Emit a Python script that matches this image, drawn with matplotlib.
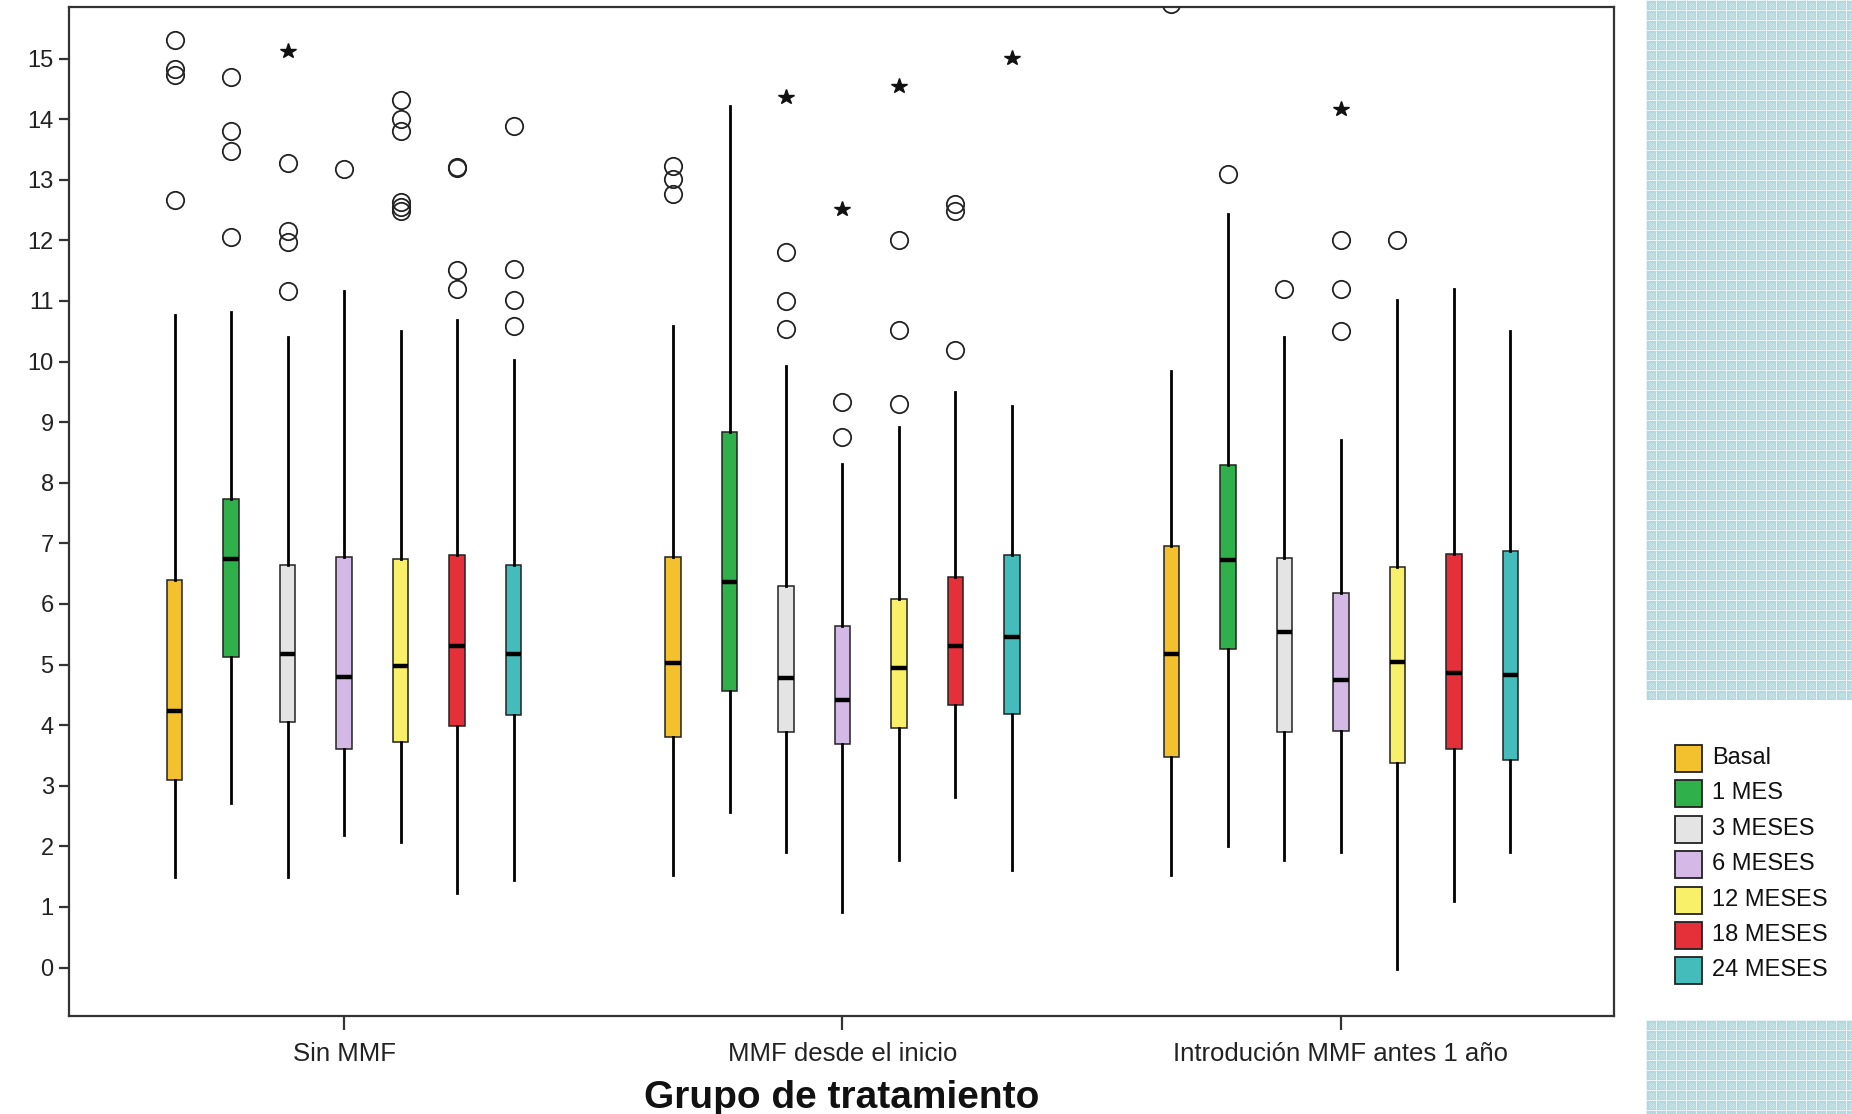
import numpy as np
import matplotlib
matplotlib.use("Agg")
import matplotlib.pyplot as plt
from matplotlib.patches import Rectangle

plt.rcParams['font.family'] = ['Liberation Sans', 'DejaVu Sans']

groups = ["Sin MMF", "MMF desde el inicio", "Introdución MMF antes 1 año"]
series = ["Basal", "1 MES", "3 MESES", "6 MESES", "12 MESES", "18 MESES", "24 MESES"]
colors = ["#F3C02E", "#2FB04A", "#E4E4E4", "#D4B8E6", "#F8F068", "#E5303A", "#44BCBC"]

# rows = series, columns = groups
whislo = [[1.49, 1.52, 1.52],
          [2.72, 2.56, 2.01],
          [1.49, 1.91, 1.78],
          [2.19, 0.91, 1.90],
          [2.07, 1.77, -0.02],
          [1.23, 2.81, 1.09],
          [1.45, 1.61, 1.90]]
q1 = [[3.10, 3.81, 3.48],
      [5.12, 4.57, 5.26],
      [4.05, 3.88, 3.89],
      [3.61, 3.69, 3.91],
      [3.72, 3.95, 3.38],
      [3.99, 4.33, 3.61],
      [4.16, 4.19, 3.43]]
medians = [[4.23, 5.02, 5.18],
           [6.74, 6.36, 6.73],
           [5.18, 4.78, 5.53],
           [4.79, 4.41, 4.75],
           [4.97, 4.94, 5.04],
           [5.30, 5.30, 4.86],
           [5.18, 5.45, 4.83]]
q3 = [[6.39, 6.77, 6.96],
      [7.73, 8.83, 8.30],
      [6.65, 6.30, 6.76],
      [6.77, 5.64, 6.18],
      [6.74, 6.08, 6.61],
      [6.80, 6.45, 6.82],
      [6.65, 6.81, 6.88]]
whishi = [[10.76, 10.59, 9.85],
          [10.81, 14.21, 12.44],
          [10.40, 9.93, 10.40],
          [11.17, 8.31, 8.70],
          [10.51, 8.92, 11.01],
          [10.69, 9.50, 11.20],
          [10.03, 9.27, 10.51]]

# outliers (circles) and extremes (stars): rows = series, columns = groups
outliers = [[[15.30, 14.83, 14.72, 12.66], [13.23, 13.01, 12.77], [15.90]],
            [[14.69, 13.81, 13.48, 12.05], [], [13.10]],
            [[13.28, 12.16, 11.97, 11.17], [11.80, 11.00, 10.54], [11.19]],
            [[13.18], [9.33, 8.75], [12.00, 11.19, 10.50]],
            [[14.31, 14.01, 13.81, 12.63, 12.55, 12.48], [12.00, 10.52, 9.30], [12.00]],
            [[13.21, 13.19, 11.51, 11.20], [12.60, 12.49, 10.19], []],
            [[13.89, 11.53, 11.02, 10.59], [], []]]
extremes = [[[], [], []],
            [[], [], []],
            [[15.12], [14.36], []],
            [[], [12.52], [14.17]],
            [[], [14.55], []],
            [[], [], []],
            [[], [15.01], []]]

y_ticks = list(range(0, 16))

W, H = 1852, 1114
fig = plt.figure(figsize=(W / 100, H / 100), dpi=100)
fig.patch.set_facecolor("white")

# decorative patterned background panels at right
def pattern(h, w):
    arr = np.zeros((h, w, 3), dtype=float)
    arr[:, :] = np.array([178, 216, 222]) / 255.0
    yy, xx = np.mgrid[0:h, 0:w]
    light = ((yy + xx) % 2 == 0) & ((yy % 10) > 2) & ((yy % 10) < 9) & ((xx % 10) > 2) & ((xx % 10) < 9)
    arr[light] = np.array([200, 230, 234]) / 255.0
    grid = ((yy % 10) == 0) | ((xx % 10) == 0)
    arr[grid] = np.array([232, 243, 245]) / 255.0
    return arr

px0 = 1646
fig.figimage(pattern(700, W - px0), xo=px0, yo=H - 700, origin="upper", zorder=0)
fig.figimage(pattern(94, W - px0), xo=px0, yo=0, origin="upper", zorder=0)

ax = fig.add_axes([69 / W, (H - 1016) / H, (1614 - 69) / W, (1016 - 7) / H])
ax.set_facecolor("white")

spacing = 0.1133
width = 0.031
n = len(series)
for si in range(n):
    stats = []
    pos = []
    for gi in range(len(groups)):
        stats.append(dict(med=medians[si][gi], q1=q1[si][gi], q3=q3[si][gi],
                          whislo=whislo[si][gi], whishi=whishi[si][gi], fliers=[]))
        pos.append(gi + (si - (n - 1) / 2) * spacing)
    ax.bxp(stats, positions=pos, widths=width, patch_artist=True, showcaps=False,
           showfliers=False,
           boxprops=dict(facecolor=colors[si], edgecolor="#222222", linewidth=1.1),
           whiskerprops=dict(color="black", linewidth=2.0),
           medianprops=dict(color="black", linewidth=3.2, solid_capstyle="butt"),
           manage_ticks=False, zorder=3)
    for gi in range(len(groups)):
        x = gi + (si - (n - 1) / 2) * spacing
        vals = outliers[si][gi]
        if vals:
            ax.plot([x] * len(vals), vals, linestyle="none", marker="o", markersize=12.5,
                    markerfacecolor="none", markeredgecolor="#222222", markeredgewidth=1.3, zorder=4)
        ext = extremes[si][gi]
        if ext:
            ax.plot([x] * len(ext), ext, linestyle="none", marker="*", markersize=11.5,
                    color="#111111", zorder=4)

ax.set_xlim(-0.552, 2.548)
ax.set_ylim(-0.80, 15.85)
ax.set_yticks(y_ticks)
ax.set_yticklabels([str(t) for t in y_ticks], fontsize=17, color="#222222")
ax.set_xticks(range(len(groups)))
ax.set_xticklabels(groups, fontsize=18.5, color="#222222")
ax.tick_params(axis="y", direction="out", length=7, width=1.6, pad=4, color="#333333")
ax.tick_params(axis="x", direction="out", length=10, width=1.6, pad=9, color="#333333")
for sp in ax.spines.values():
    sp.set_linewidth(1.6)
    sp.set_color("#333333")
ax.set_xlabel("Grupo de tratamiento", fontsize=28, fontweight="bold", labelpad=10, color="#111111")

# legend drawn at right
leg_x = 1675
leg_y0 = 758
leg_dy = 35.4
for i, (lab, col) in enumerate(zip(series, colors)):
    yc = leg_y0 + i * leg_dy
    fig.patches.append(Rectangle((leg_x / W, (H - yc - 14) / H), 27 / W, 27 / H,
                                 transform=fig.transFigure, facecolor=col,
                                 edgecolor="#222222", linewidth=1.3, zorder=5))
    fig.text(1712 / W, (H - yc) / H, lab, fontsize=17, va="center", ha="left", color="#111111")

fig.savefig("out.png", dpi=100, facecolor="white")
